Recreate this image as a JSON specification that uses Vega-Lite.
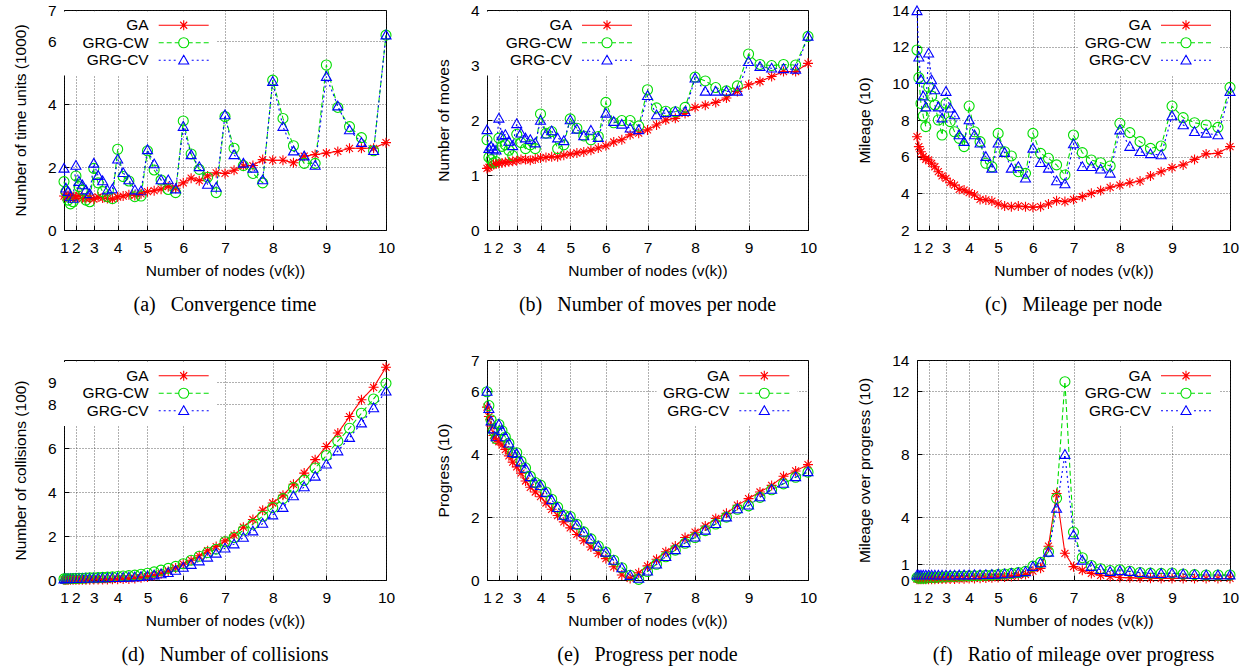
{
"$schema": "https://vega.github.io/schema/vega-lite/v6.json",
"background": "white",
"padding": {"left": 12, "top": 2, "right": 0, "bottom": 0},
"datasets": {
"a": [
{"n":1,"GA":1.08,"GRG-CW":1.54,"GRG-CV":1.96},
{"n":1.32,"GA":1.05,"GRG-CW":1.22,"GRG-CV":1.33},
{"n":1.68,"GA":1.1,"GRG-CW":0.95,"GRG-CV":1.22},
{"n":2.08,"GA":1.02,"GRG-CW":0.83,"GRG-CV":1.06},
{"n":2.52,"GA":1.06,"GRG-CW":0.9,"GRG-CV":1.0},
{"n":3,"GA":1.05,"GRG-CW":1.72,"GRG-CV":2.05},
{"n":3.52,"GA":1.1,"GRG-CW":1.38,"GRG-CV":1.54},
{"n":4.08,"GA":1.0,"GRG-CW":1.27,"GRG-CV":1.43},
{"n":4.68,"GA":1.0,"GRG-CW":0.95,"GRG-CV":1.27},
{"n":5.32,"GA":1.02,"GRG-CW":0.9,"GRG-CV":1.15},
{"n":6,"GA":0.98,"GRG-CW":1.96,"GRG-CV":2.12},
{"n":6.72,"GA":1.05,"GRG-CW":1.5,"GRG-CV":1.73},
{"n":7.48,"GA":1.02,"GRG-CW":1.22,"GRG-CV":1.56},
{"n":8.28,"GA":1.0,"GRG-CW":1.06,"GRG-CV":1.27},
{"n":9.12,"GA":0.98,"GRG-CW":1.0,"GRG-CV":1.3},
{"n":10,"GA":1.05,"GRG-CW":2.57,"GRG-CV":2.25},
{"n":10.92,"GA":1.08,"GRG-CW":1.7,"GRG-CV":1.82},
{"n":11.88,"GA":1.12,"GRG-CW":1.56,"GRG-CV":1.59},
{"n":12.88,"GA":1.1,"GRG-CW":1.06,"GRG-CV":1.27},
{"n":13.92,"GA":1.15,"GRG-CW":1.08,"GRG-CV":1.24},
{"n":15,"GA":1.22,"GRG-CW":2.52,"GRG-CV":2.55},
{"n":16.12,"GA":1.25,"GRG-CW":1.91,"GRG-CV":2.1},
{"n":17.28,"GA":1.3,"GRG-CW":1.59,"GRG-CV":1.59},
{"n":18.48,"GA":1.38,"GRG-CW":1.29,"GRG-CV":1.59},
{"n":19.72,"GA":1.33,"GRG-CW":1.19,"GRG-CV":1.3},
{"n":21,"GA":1.5,"GRG-CW":3.47,"GRG-CV":3.29},
{"n":22.32,"GA":1.65,"GRG-CW":2.42,"GRG-CV":2.39},
{"n":23.68,"GA":1.57,"GRG-CW":1.93,"GRG-CV":2.01},
{"n":25.08,"GA":1.72,"GRG-CW":1.68,"GRG-CV":1.45},
{"n":26.52,"GA":1.82,"GRG-CW":1.19,"GRG-CV":1.35},
{"n":28,"GA":1.8,"GRG-CW":3.61,"GRG-CV":3.66},
{"n":29.52,"GA":1.9,"GRG-CW":2.6,"GRG-CV":2.39},
{"n":31.08,"GA":2.03,"GRG-CW":2.05,"GRG-CV":2.12},
{"n":32.68,"GA":2.05,"GRG-CW":1.8,"GRG-CV":1.96},
{"n":34.32,"GA":2.24,"GRG-CW":1.5,"GRG-CV":1.59},
{"n":36,"GA":2.22,"GRG-CW":4.77,"GRG-CV":4.72},
{"n":37.72,"GA":2.22,"GRG-CW":3.55,"GRG-CV":3.29},
{"n":39.48,"GA":2.14,"GRG-CW":2.68,"GRG-CV":2.51},
{"n":41.28,"GA":2.35,"GRG-CW":2.12,"GRG-CV":2.35},
{"n":43.12,"GA":2.4,"GRG-CW":2.12,"GRG-CV":2.05},
{"n":45,"GA":2.45,"GRG-CW":5.25,"GRG-CV":4.88},
{"n":46.92,"GA":2.5,"GRG-CW":3.9,"GRG-CV":3.94},
{"n":48.88,"GA":2.6,"GRG-CW":3.29,"GRG-CV":3.18},
{"n":50.88,"GA":2.6,"GRG-CW":2.94,"GRG-CV":2.78},
{"n":52.92,"GA":2.6,"GRG-CW":2.52,"GRG-CV":2.52},
{"n":55,"GA":2.78,"GRG-CW":6.2,"GRG-CV":6.2}
],
"b": [
{"n":1,"GA":1.12,"GRG-CW":1.64,"GRG-CV":1.82},
{"n":1.32,"GA":1.14,"GRG-CW":1.32,"GRG-CV":1.48},
{"n":1.68,"GA":1.17,"GRG-CW":1.28,"GRG-CV":1.52},
{"n":2.08,"GA":1.19,"GRG-CW":1.22,"GRG-CV":1.47},
{"n":2.52,"GA":1.2,"GRG-CW":1.24,"GRG-CV":1.45},
{"n":3,"GA":1.21,"GRG-CW":1.67,"GRG-CV":2.03},
{"n":3.52,"GA":1.22,"GRG-CW":1.52,"GRG-CV":1.71},
{"n":4.08,"GA":1.23,"GRG-CW":1.55,"GRG-CV":1.73},
{"n":4.68,"GA":1.24,"GRG-CW":1.45,"GRG-CV":1.61},
{"n":5.32,"GA":1.25,"GRG-CW":1.35,"GRG-CV":1.53},
{"n":6,"GA":1.26,"GRG-CW":1.74,"GRG-CV":1.93},
{"n":6.72,"GA":1.28,"GRG-CW":1.59,"GRG-CV":1.76},
{"n":7.48,"GA":1.28,"GRG-CW":1.48,"GRG-CV":1.67},
{"n":8.28,"GA":1.27,"GRG-CW":1.55,"GRG-CV":1.64},
{"n":9.12,"GA":1.29,"GRG-CW":1.48,"GRG-CV":1.58},
{"n":10,"GA":1.31,"GRG-CW":2.11,"GRG-CV":1.99},
{"n":10.92,"GA":1.32,"GRG-CW":1.76,"GRG-CV":1.74},
{"n":11.88,"GA":1.33,"GRG-CW":1.79,"GRG-CV":1.8},
{"n":12.88,"GA":1.33,"GRG-CW":1.48,"GRG-CV":1.67},
{"n":13.92,"GA":1.36,"GRG-CW":1.55,"GRG-CV":1.62},
{"n":15,"GA":1.38,"GRG-CW":2.02,"GRG-CV":2.0},
{"n":16.12,"GA":1.4,"GRG-CW":1.85,"GRG-CV":1.83},
{"n":17.28,"GA":1.42,"GRG-CW":1.71,"GRG-CV":1.71},
{"n":18.48,"GA":1.45,"GRG-CW":1.64,"GRG-CV":1.81},
{"n":19.72,"GA":1.49,"GRG-CW":1.7,"GRG-CV":1.68},
{"n":21,"GA":1.53,"GRG-CW":2.32,"GRG-CV":2.12},
{"n":22.32,"GA":1.6,"GRG-CW":1.95,"GRG-CV":1.97},
{"n":23.68,"GA":1.64,"GRG-CW":1.99,"GRG-CV":1.92},
{"n":25.08,"GA":1.73,"GRG-CW":1.99,"GRG-CV":1.85},
{"n":26.52,"GA":1.76,"GRG-CW":1.89,"GRG-CV":1.82},
{"n":28,"GA":1.82,"GRG-CW":2.55,"GRG-CV":2.44},
{"n":29.52,"GA":1.91,"GRG-CW":2.22,"GRG-CV":2.09},
{"n":31.08,"GA":2.0,"GRG-CW":2.16,"GRG-CV":2.13},
{"n":32.68,"GA":2.03,"GRG-CW":2.15,"GRG-CV":2.15},
{"n":34.32,"GA":2.12,"GRG-CW":2.23,"GRG-CV":2.15},
{"n":36,"GA":2.23,"GRG-CW":2.78,"GRG-CV":2.76},
{"n":37.72,"GA":2.27,"GRG-CW":2.71,"GRG-CV":2.52},
{"n":39.48,"GA":2.32,"GRG-CW":2.59,"GRG-CV":2.52},
{"n":41.28,"GA":2.4,"GRG-CW":2.53,"GRG-CV":2.52},
{"n":43.12,"GA":2.52,"GRG-CW":2.62,"GRG-CV":2.52},
{"n":45,"GA":2.64,"GRG-CW":3.2,"GRG-CV":3.06},
{"n":46.92,"GA":2.7,"GRG-CW":3.01,"GRG-CV":2.97},
{"n":48.88,"GA":2.79,"GRG-CW":2.99,"GRG-CV":2.94},
{"n":50.88,"GA":2.88,"GRG-CW":3.01,"GRG-CV":2.93},
{"n":52.92,"GA":2.88,"GRG-CW":3.0,"GRG-CV":2.92},
{"n":55,"GA":3.03,"GRG-CW":3.52,"GRG-CV":3.52}
],
"c": [
{"n":1,"GA":7.09,"GRG-CW":11.82,"GRG-CV":13.95},
{"n":1.32,"GA":6.55,"GRG-CW":10.31,"GRG-CV":11.42},
{"n":1.68,"GA":6.27,"GRG-CW":8.9,"GRG-CV":10.2},
{"n":2.08,"GA":6.0,"GRG-CW":8.22,"GRG-CV":9.3},
{"n":2.52,"GA":5.85,"GRG-CW":7.64,"GRG-CV":8.7},
{"n":3,"GA":5.82,"GRG-CW":9.8,"GRG-CV":11.64},
{"n":3.52,"GA":5.64,"GRG-CW":9.3,"GRG-CV":10.18},
{"n":4.08,"GA":5.45,"GRG-CW":8.82,"GRG-CV":9.64},
{"n":4.68,"GA":5.18,"GRG-CW":8.0,"GRG-CV":8.7},
{"n":5.32,"GA":4.95,"GRG-CW":7.18,"GRG-CV":8.1},
{"n":6,"GA":4.82,"GRG-CW":8.91,"GRG-CV":9.55},
{"n":6.72,"GA":4.58,"GRG-CW":7.91,"GRG-CV":8.64},
{"n":7.48,"GA":4.45,"GRG-CW":7.36,"GRG-CV":8.27},
{"n":8.28,"GA":4.22,"GRG-CW":7.0,"GRG-CV":7.18},
{"n":9.12,"GA":4.18,"GRG-CW":6.55,"GRG-CV":6.82},
{"n":10,"GA":4.04,"GRG-CW":8.76,"GRG-CV":8.0},
{"n":10.92,"GA":3.91,"GRG-CW":7.36,"GRG-CV":7.18},
{"n":11.88,"GA":3.67,"GRG-CW":6.82,"GRG-CV":6.73},
{"n":12.88,"GA":3.64,"GRG-CW":5.64,"GRG-CV":6.0},
{"n":13.92,"GA":3.58,"GRG-CW":5.45,"GRG-CV":5.36},
{"n":15,"GA":3.42,"GRG-CW":7.27,"GRG-CV":6.73},
{"n":16.12,"GA":3.31,"GRG-CW":6.27,"GRG-CV":6.22},
{"n":17.28,"GA":3.27,"GRG-CW":6.04,"GRG-CV":5.36},
{"n":18.48,"GA":3.31,"GRG-CW":5.18,"GRG-CV":5.45},
{"n":19.72,"GA":3.27,"GRG-CW":5.09,"GRG-CV":4.82},
{"n":21,"GA":3.24,"GRG-CW":7.27,"GRG-CV":6.45},
{"n":22.32,"GA":3.27,"GRG-CW":6.18,"GRG-CV":5.67},
{"n":23.68,"GA":3.42,"GRG-CW":5.91,"GRG-CV":5.36},
{"n":25.08,"GA":3.6,"GRG-CW":5.55,"GRG-CV":4.67},
{"n":26.52,"GA":3.55,"GRG-CW":5.0,"GRG-CV":4.51},
{"n":28,"GA":3.67,"GRG-CW":7.18,"GRG-CV":6.69},
{"n":29.52,"GA":3.82,"GRG-CW":6.22,"GRG-CV":5.45},
{"n":31.08,"GA":4.0,"GRG-CW":5.82,"GRG-CV":5.45},
{"n":32.68,"GA":4.15,"GRG-CW":5.67,"GRG-CV":5.31},
{"n":34.32,"GA":4.33,"GRG-CW":5.49,"GRG-CV":5.09},
{"n":36,"GA":4.45,"GRG-CW":7.82,"GRG-CV":7.45},
{"n":37.72,"GA":4.58,"GRG-CW":7.31,"GRG-CV":6.55},
{"n":39.48,"GA":4.67,"GRG-CW":6.82,"GRG-CV":6.27},
{"n":41.28,"GA":4.95,"GRG-CW":6.45,"GRG-CV":6.15},
{"n":43.12,"GA":5.18,"GRG-CW":6.58,"GRG-CV":6.09},
{"n":45,"GA":5.4,"GRG-CW":8.76,"GRG-CV":8.22},
{"n":46.92,"GA":5.55,"GRG-CW":8.13,"GRG-CV":7.73},
{"n":48.88,"GA":5.85,"GRG-CW":7.85,"GRG-CV":7.36},
{"n":50.88,"GA":6.15,"GRG-CW":7.73,"GRG-CV":7.27},
{"n":52.92,"GA":6.18,"GRG-CW":7.6,"GRG-CV":7.18},
{"n":55,"GA":6.55,"GRG-CW":9.78,"GRG-CV":9.55}
],
"d": [
{"n":1,"GA":0.0,"GRG-CW":0.05,"GRG-CV":0.04},
{"n":1.32,"GA":0.0,"GRG-CW":0.05,"GRG-CV":0.04},
{"n":1.68,"GA":0.0,"GRG-CW":0.06,"GRG-CV":0.05},
{"n":2.08,"GA":0.01,"GRG-CW":0.06,"GRG-CV":0.05},
{"n":2.52,"GA":0.01,"GRG-CW":0.07,"GRG-CV":0.05},
{"n":3,"GA":0.01,"GRG-CW":0.07,"GRG-CV":0.06},
{"n":3.52,"GA":0.01,"GRG-CW":0.08,"GRG-CV":0.06},
{"n":4.08,"GA":0.01,"GRG-CW":0.08,"GRG-CV":0.06},
{"n":4.68,"GA":0.01,"GRG-CW":0.09,"GRG-CV":0.07},
{"n":5.32,"GA":0.01,"GRG-CW":0.1,"GRG-CV":0.07},
{"n":6,"GA":0.02,"GRG-CW":0.1,"GRG-CV":0.08},
{"n":6.72,"GA":0.02,"GRG-CW":0.11,"GRG-CV":0.08},
{"n":7.48,"GA":0.02,"GRG-CW":0.12,"GRG-CV":0.09},
{"n":8.28,"GA":0.02,"GRG-CW":0.13,"GRG-CV":0.09},
{"n":9.12,"GA":0.03,"GRG-CW":0.14,"GRG-CV":0.1},
{"n":10,"GA":0.03,"GRG-CW":0.16,"GRG-CV":0.1},
{"n":10.92,"GA":0.04,"GRG-CW":0.18,"GRG-CV":0.11},
{"n":11.88,"GA":0.05,"GRG-CW":0.2,"GRG-CV":0.12},
{"n":12.88,"GA":0.07,"GRG-CW":0.22,"GRG-CV":0.13},
{"n":13.92,"GA":0.1,"GRG-CW":0.26,"GRG-CV":0.15},
{"n":15,"GA":0.14,"GRG-CW":0.31,"GRG-CV":0.18},
{"n":16.12,"GA":0.2,"GRG-CW":0.37,"GRG-CV":0.22},
{"n":17.28,"GA":0.28,"GRG-CW":0.45,"GRG-CV":0.27},
{"n":18.48,"GA":0.4,"GRG-CW":0.53,"GRG-CV":0.33},
{"n":19.72,"GA":0.55,"GRG-CW":0.62,"GRG-CV":0.43},
{"n":21,"GA":0.72,"GRG-CW":0.74,"GRG-CV":0.57},
{"n":22.32,"GA":0.9,"GRG-CW":0.9,"GRG-CV":0.7},
{"n":23.68,"GA":1.1,"GRG-CW":1.08,"GRG-CV":0.86},
{"n":25.08,"GA":1.33,"GRG-CW":1.25,"GRG-CV":1.03},
{"n":26.52,"GA":1.52,"GRG-CW":1.4,"GRG-CV":1.21},
{"n":28,"GA":1.78,"GRG-CW":1.74,"GRG-CV":1.44},
{"n":29.52,"GA":2.04,"GRG-CW":1.93,"GRG-CV":1.63},
{"n":31.08,"GA":2.4,"GRG-CW":2.27,"GRG-CV":1.93},
{"n":32.68,"GA":2.75,"GRG-CW":2.54,"GRG-CV":2.22},
{"n":34.32,"GA":3.17,"GRG-CW":2.9,"GRG-CV":2.57},
{"n":36,"GA":3.5,"GRG-CW":3.29,"GRG-CV":2.95},
{"n":37.72,"GA":3.85,"GRG-CW":3.7,"GRG-CV":3.29},
{"n":39.48,"GA":4.35,"GRG-CW":4.2,"GRG-CV":3.82},
{"n":41.28,"GA":4.86,"GRG-CW":4.53,"GRG-CV":4.23},
{"n":43.12,"GA":5.47,"GRG-CW":5.09,"GRG-CV":4.71},
{"n":45,"GA":6.07,"GRG-CW":5.66,"GRG-CV":5.26},
{"n":46.92,"GA":6.68,"GRG-CW":6.31,"GRG-CV":5.86},
{"n":48.88,"GA":7.43,"GRG-CW":6.9,"GRG-CV":6.47},
{"n":50.88,"GA":8.19,"GRG-CW":7.58,"GRG-CV":7.13},
{"n":52.92,"GA":8.76,"GRG-CW":8.23,"GRG-CV":7.82},
{"n":55,"GA":9.67,"GRG-CW":8.94,"GRG-CV":8.58}
],
"e": [
{"n":1,"GA":5.5,"GRG-CW":5.99,"GRG-CV":6.0},
{"n":1.32,"GA":5.2,"GRG-CW":5.55,"GRG-CV":5.45},
{"n":1.68,"GA":4.9,"GRG-CW":5.1,"GRG-CV":5.05},
{"n":2.08,"GA":4.6,"GRG-CW":4.75,"GRG-CV":4.8},
{"n":2.52,"GA":4.45,"GRG-CW":4.5,"GRG-CV":4.55},
{"n":3,"GA":4.4,"GRG-CW":4.95,"GRG-CV":4.95},
{"n":3.52,"GA":4.3,"GRG-CW":4.75,"GRG-CV":4.75},
{"n":4.08,"GA":4.15,"GRG-CW":4.55,"GRG-CV":4.55},
{"n":4.68,"GA":3.95,"GRG-CW":4.35,"GRG-CV":4.35},
{"n":5.32,"GA":3.75,"GRG-CW":4.05,"GRG-CV":4.05},
{"n":6,"GA":3.6,"GRG-CW":4.05,"GRG-CV":4.02},
{"n":6.72,"GA":3.4,"GRG-CW":3.78,"GRG-CV":3.75},
{"n":7.48,"GA":3.15,"GRG-CW":3.57,"GRG-CV":3.55},
{"n":8.28,"GA":2.95,"GRG-CW":3.3,"GRG-CV":3.28},
{"n":9.12,"GA":2.8,"GRG-CW":3.1,"GRG-CV":3.08},
{"n":10,"GA":2.65,"GRG-CW":3.02,"GRG-CV":3.0},
{"n":10.92,"GA":2.45,"GRG-CW":2.8,"GRG-CV":2.78},
{"n":11.88,"GA":2.25,"GRG-CW":2.57,"GRG-CV":2.55},
{"n":12.88,"GA":2.05,"GRG-CW":2.32,"GRG-CV":2.3},
{"n":13.92,"GA":1.85,"GRG-CW":2.07,"GRG-CV":2.05},
{"n":15,"GA":1.66,"GRG-CW":2.02,"GRG-CV":2.0},
{"n":16.12,"GA":1.45,"GRG-CW":1.77,"GRG-CV":1.75},
{"n":17.28,"GA":1.25,"GRG-CW":1.53,"GRG-CV":1.52},
{"n":18.48,"GA":1.05,"GRG-CW":1.31,"GRG-CV":1.3},
{"n":19.72,"GA":0.85,"GRG-CW":1.08,"GRG-CV":1.07},
{"n":21,"GA":0.68,"GRG-CW":0.89,"GRG-CV":0.88},
{"n":22.32,"GA":0.42,"GRG-CW":0.63,"GRG-CV":0.62},
{"n":23.68,"GA":0.16,"GRG-CW":0.39,"GRG-CV":0.38},
{"n":25.08,"GA":0.05,"GRG-CW":0.15,"GRG-CV":0.14},
{"n":26.52,"GA":0.23,"GRG-CW":0.02,"GRG-CV":0.05},
{"n":28,"GA":0.45,"GRG-CW":0.27,"GRG-CV":0.28},
{"n":29.52,"GA":0.66,"GRG-CW":0.5,"GRG-CV":0.5},
{"n":31.08,"GA":0.9,"GRG-CW":0.74,"GRG-CV":0.74},
{"n":32.68,"GA":1.08,"GRG-CW":0.95,"GRG-CV":0.96},
{"n":34.32,"GA":1.35,"GRG-CW":1.17,"GRG-CV":1.18},
{"n":36,"GA":1.52,"GRG-CW":1.35,"GRG-CV":1.36},
{"n":37.72,"GA":1.72,"GRG-CW":1.57,"GRG-CV":1.58},
{"n":39.48,"GA":1.96,"GRG-CW":1.78,"GRG-CV":1.79},
{"n":41.28,"GA":2.12,"GRG-CW":2.0,"GRG-CV":2.0},
{"n":43.12,"GA":2.38,"GRG-CW":2.25,"GRG-CV":2.26},
{"n":45,"GA":2.59,"GRG-CW":2.36,"GRG-CV":2.38},
{"n":46.92,"GA":2.8,"GRG-CW":2.63,"GRG-CV":2.64},
{"n":48.88,"GA":3.01,"GRG-CW":2.87,"GRG-CV":2.88},
{"n":50.88,"GA":3.3,"GRG-CW":3.06,"GRG-CV":3.07},
{"n":52.92,"GA":3.47,"GRG-CW":3.27,"GRG-CV":3.28},
{"n":55,"GA":3.67,"GRG-CW":3.43,"GRG-CV":3.44}
],
"f": [
{"n":1,"GA":0.05,"GRG-CW":0.15,"GRG-CV":0.3},
{"n":1.32,"GA":0.05,"GRG-CW":0.12,"GRG-CV":0.3},
{"n":1.68,"GA":0.05,"GRG-CW":0.12,"GRG-CV":0.3},
{"n":2.08,"GA":0.05,"GRG-CW":0.12,"GRG-CV":0.3},
{"n":2.52,"GA":0.05,"GRG-CW":0.12,"GRG-CV":0.3},
{"n":3,"GA":0.05,"GRG-CW":0.15,"GRG-CV":0.3},
{"n":3.52,"GA":0.05,"GRG-CW":0.15,"GRG-CV":0.3},
{"n":4.08,"GA":0.05,"GRG-CW":0.15,"GRG-CV":0.3},
{"n":4.68,"GA":0.06,"GRG-CW":0.18,"GRG-CV":0.3},
{"n":5.32,"GA":0.06,"GRG-CW":0.18,"GRG-CV":0.3},
{"n":6,"GA":0.06,"GRG-CW":0.2,"GRG-CV":0.3},
{"n":6.72,"GA":0.07,"GRG-CW":0.22,"GRG-CV":0.3},
{"n":7.48,"GA":0.07,"GRG-CW":0.22,"GRG-CV":0.3},
{"n":8.28,"GA":0.08,"GRG-CW":0.24,"GRG-CV":0.31},
{"n":9.12,"GA":0.08,"GRG-CW":0.25,"GRG-CV":0.31},
{"n":10,"GA":0.09,"GRG-CW":0.26,"GRG-CV":0.31},
{"n":10.92,"GA":0.1,"GRG-CW":0.27,"GRG-CV":0.32},
{"n":11.88,"GA":0.11,"GRG-CW":0.28,"GRG-CV":0.32},
{"n":12.88,"GA":0.12,"GRG-CW":0.3,"GRG-CV":0.33},
{"n":13.92,"GA":0.14,"GRG-CW":0.32,"GRG-CV":0.34},
{"n":15,"GA":0.16,"GRG-CW":0.35,"GRG-CV":0.36},
{"n":16.12,"GA":0.19,"GRG-CW":0.38,"GRG-CV":0.38},
{"n":17.28,"GA":0.23,"GRG-CW":0.42,"GRG-CV":0.41},
{"n":18.48,"GA":0.28,"GRG-CW":0.47,"GRG-CV":0.45},
{"n":19.72,"GA":0.35,"GRG-CW":0.55,"GRG-CV":0.52},
{"n":21,"GA":0.57,"GRG-CW":0.88,"GRG-CV":0.85},
{"n":22.32,"GA":0.74,"GRG-CW":1.12,"GRG-CV":1.08},
{"n":23.68,"GA":2.15,"GRG-CW":1.8,"GRG-CV":1.76},
{"n":25.08,"GA":5.5,"GRG-CW":5.2,"GRG-CV":4.55},
{"n":26.52,"GA":1.7,"GRG-CW":12.62,"GRG-CV":7.98},
{"n":28,"GA":0.85,"GRG-CW":3.05,"GRG-CV":2.86},
{"n":29.52,"GA":0.62,"GRG-CW":1.42,"GRG-CV":1.25},
{"n":31.08,"GA":0.42,"GRG-CW":0.92,"GRG-CV":0.85},
{"n":32.68,"GA":0.3,"GRG-CW":0.72,"GRG-CV":0.65},
{"n":34.32,"GA":0.22,"GRG-CW":0.6,"GRG-CV":0.53},
{"n":36,"GA":0.16,"GRG-CW":0.65,"GRG-CV":0.58},
{"n":37.72,"GA":0.14,"GRG-CW":0.56,"GRG-CV":0.53},
{"n":39.48,"GA":0.12,"GRG-CW":0.48,"GRG-CV":0.46},
{"n":41.28,"GA":0.11,"GRG-CW":0.44,"GRG-CV":0.42},
{"n":43.12,"GA":0.1,"GRG-CW":0.42,"GRG-CV":0.4},
{"n":45,"GA":0.1,"GRG-CW":0.45,"GRG-CV":0.43},
{"n":46.92,"GA":0.1,"GRG-CW":0.38,"GRG-CV":0.37},
{"n":48.88,"GA":0.1,"GRG-CW":0.34,"GRG-CV":0.33},
{"n":50.88,"GA":0.1,"GRG-CW":0.32,"GRG-CV":0.31},
{"n":52.92,"GA":0.1,"GRG-CW":0.32,"GRG-CV":0.31},
{"n":55,"GA":0.1,"GRG-CW":0.32,"GRG-CV":0.31}
]
},
"vconcat": [
{"hconcat": [
{"width": 322, "height": 220, "data": {"name": "a"},
 "transform": [{"fold": ["GA","GRG-CW","GRG-CV"], "as": ["series","value"]}],
 "title": {"text": "(a)\u2002 Convergence time"},
 "encoding": {
  "x": {"field": "n", "type": "quantitative", "scale": {"domain": [1,55], "nice": false, "zero": false}, "axis": {"values": [1,3,6,10,15,21,28,36,45,55], "labelExpr": "'' + (indexof([1,3,6,10,15,21,28,36,45,55], datum.value) + 1)", "title": "Number of nodes (v(k))"}},
  "y": {"field": "value", "type": "quantitative", "scale": {"domain": [0,7], "nice": false, "zero": false}, "axis": {"values": [0,2,4,6,7], "title": "Number of time units (1000)"}}
 },
 "resolve": {"scale": {"shape": "independent", "color": "independent"}, "legend": {"shape": "independent", "color": "independent"}},
 "layer": [
  {"mark": {"type": "line", "strokeWidth": 1.1}, "encoding": {
    "stroke": {"field": "series", "type": "nominal", "scale": {"range": ["#ff0000","#0000ff","#00dd00"]}, "legend": null},
    "strokeDash": {"field": "series", "type": "nominal", "scale": {"range": [[1,0],[2,3],[5,3]]}, "legend": null}}},
  {"mark": {"type": "point", "filled": false, "size": 100, "strokeWidth": 1.1, "opacity": 1}, "encoding": {
    "stroke": {"field": "series", "type": "nominal", "scale": {"range": ["#ff0000","#0000ff","#00dd00"]}, "legend": null},
    "shape": {"field": "series", "type": "nominal", "scale": {"range": ["M-1,0H1M0,-1V1M-0.7,-0.7L0.7,0.7M-0.7,0.7L0.7,-0.7","M0,-1L1,0.75L-1,0.75Z","M1,0A1,1,0,1,1,-1,0A1,1,0,1,1,1,0"]}, "legend": null}}},
  {"transform": [{"filter": "false"}], "mark": {"type": "point", "filled": false, "size": 100, "strokeWidth": 1.1, "opacity": 1}, "encoding": {
    "shape": {"field": "series", "type": "nominal", "scale": {"domain": ["GA","GRG-CW","GRG-CV"], "range": ["M-5,0H5M0,-1V1M-0.7,-0.7L0.7,0.7M-0.7,0.7L0.7,-0.7","M-5,0H-4M-3.4,0H-2.4M-1.8,0H-1M1,0H1.8M2.4,0H3.4M4,0H5M1,0A1,1,0,1,1,-1,0A1,1,0,1,1,1,0","M-5,0H-4.6M-4,0H-3.6M-3,0H-2.6M-2,0H-1.6M1.6,0H2M2.6,0H3M3.6,0H4M4.6,0H5M0,-1L1,0.75L-1,0.75Z"]}},
    "color": {"field": "series", "type": "nominal", "scale": {"domain": ["GA","GRG-CW","GRG-CV"], "range": ["#ff0000","#00dd00","#0000ff"]},
      "legend": {"title": null, "orient": "none", "legendX": 0, "legendY": 1.5, "labelOffset": -42.75, "symbolOffset": 105.95}}}}
 ]},
{"width": 321, "height": 220, "data": {"name": "b"},
 "transform": [{"fold": ["GA","GRG-CW","GRG-CV"], "as": ["series","value"]}],
 "title": {"text": "(b)\u2002 Number of moves per node"},
 "encoding": {
  "x": {"field": "n", "type": "quantitative", "scale": {"domain": [1,55], "nice": false, "zero": false}, "axis": {"values": [1,3,6,10,15,21,28,36,45,55], "labelExpr": "'' + (indexof([1,3,6,10,15,21,28,36,45,55], datum.value) + 1)", "title": "Number of nodes (v(k))"}},
  "y": {"field": "value", "type": "quantitative", "scale": {"domain": [0,4], "nice": false, "zero": false}, "axis": {"values": [0,1,2,3,4], "title": "Number of moves"}}
 },
 "resolve": {"scale": {"shape": "independent", "color": "independent"}, "legend": {"shape": "independent", "color": "independent"}},
 "layer": [
  {"mark": {"type": "line", "strokeWidth": 1.1}, "encoding": {
    "stroke": {"field": "series", "type": "nominal", "scale": {"range": ["#ff0000","#0000ff","#00dd00"]}, "legend": null},
    "strokeDash": {"field": "series", "type": "nominal", "scale": {"range": [[1,0],[2,3],[5,3]]}, "legend": null}}},
  {"mark": {"type": "point", "filled": false, "size": 100, "strokeWidth": 1.1, "opacity": 1}, "encoding": {
    "stroke": {"field": "series", "type": "nominal", "scale": {"range": ["#ff0000","#0000ff","#00dd00"]}, "legend": null},
    "shape": {"field": "series", "type": "nominal", "scale": {"range": ["M-1,0H1M0,-1V1M-0.7,-0.7L0.7,0.7M-0.7,0.7L0.7,-0.7","M0,-1L1,0.75L-1,0.75Z","M1,0A1,1,0,1,1,-1,0A1,1,0,1,1,1,0"]}, "legend": null}}},
  {"transform": [{"filter": "false"}], "mark": {"type": "point", "filled": false, "size": 100, "strokeWidth": 1.1, "opacity": 1}, "encoding": {
    "shape": {"field": "series", "type": "nominal", "scale": {"domain": ["GA","GRG-CW","GRG-CV"], "range": ["M-5,0H5M0,-1V1M-0.7,-0.7L0.7,0.7M-0.7,0.7L0.7,-0.7","M-5,0H-4M-3.4,0H-2.4M-1.8,0H-1M1,0H1.8M2.4,0H3.4M4,0H5M1,0A1,1,0,1,1,-1,0A1,1,0,1,1,1,0","M-5,0H-4.6M-4,0H-3.6M-3,0H-2.6M-2,0H-1.6M1.6,0H2M2.6,0H3M3.6,0H4M4.6,0H5M0,-1L1,0.75L-1,0.75Z"]}},
    "color": {"field": "series", "type": "nominal", "scale": {"domain": ["GA","GRG-CW","GRG-CV"], "range": ["#ff0000","#00dd00","#0000ff"]},
      "legend": {"title": null, "orient": "none", "legendX": 0, "legendY": 1.5, "labelOffset": -42.75, "symbolOffset": 106.25}}}}
 ]},
{"width": 313, "height": 220, "data": {"name": "c"},
 "transform": [{"fold": ["GA","GRG-CW","GRG-CV"], "as": ["series","value"]}],
 "title": {"text": "(c)\u2002 Mileage per node"},
 "encoding": {
  "x": {"field": "n", "type": "quantitative", "scale": {"domain": [1,55], "nice": false, "zero": false}, "axis": {"values": [1,3,6,10,15,21,28,36,45,55], "labelExpr": "'' + (indexof([1,3,6,10,15,21,28,36,45,55], datum.value) + 1)", "title": "Number of nodes (v(k))"}},
  "y": {"field": "value", "type": "quantitative", "scale": {"domain": [2,14], "nice": false, "zero": false}, "axis": {"values": [2,4,6,8,10,12,14], "title": "Mileage (10)"}}
 },
 "resolve": {"scale": {"shape": "independent", "color": "independent"}, "legend": {"shape": "independent", "color": "independent"}},
 "layer": [
  {"mark": {"type": "line", "strokeWidth": 1.1}, "encoding": {
    "stroke": {"field": "series", "type": "nominal", "scale": {"range": ["#ff0000","#0000ff","#00dd00"]}, "legend": null},
    "strokeDash": {"field": "series", "type": "nominal", "scale": {"range": [[1,0],[2,3],[5,3]]}, "legend": null}}},
  {"mark": {"type": "point", "filled": false, "size": 100, "strokeWidth": 1.1, "opacity": 1}, "encoding": {
    "stroke": {"field": "series", "type": "nominal", "scale": {"range": ["#ff0000","#0000ff","#00dd00"]}, "legend": null},
    "shape": {"field": "series", "type": "nominal", "scale": {"range": ["M-1,0H1M0,-1V1M-0.7,-0.7L0.7,0.7M-0.7,0.7L0.7,-0.7","M0,-1L1,0.75L-1,0.75Z","M1,0A1,1,0,1,1,-1,0A1,1,0,1,1,1,0"]}, "legend": null}}},
  {"transform": [{"filter": "false"}], "mark": {"type": "point", "filled": false, "size": 100, "strokeWidth": 1.1, "opacity": 1}, "encoding": {
    "shape": {"field": "series", "type": "nominal", "scale": {"domain": ["GA","GRG-CW","GRG-CV"], "range": ["M-5,0H5M0,-1V1M-0.7,-0.7L0.7,0.7M-0.7,0.7L0.7,-0.7","M-5,0H-4M-3.4,0H-2.4M-1.8,0H-1M1,0H1.8M2.4,0H3.4M4,0H5M1,0A1,1,0,1,1,-1,0A1,1,0,1,1,1,0","M-5,0H-4.6M-4,0H-3.6M-3,0H-2.6M-2,0H-1.6M1.6,0H2M2.6,0H3M3.6,0H4M4.6,0H5M0,-1L1,0.75L-1,0.75Z"]}},
    "color": {"field": "series", "type": "nominal", "scale": {"domain": ["GA","GRG-CW","GRG-CV"], "range": ["#ff0000","#00dd00","#0000ff"]},
      "legend": {"title": null, "orient": "none", "legendX": 161.3, "legendY": 1.5, "labelOffset": -42.75, "symbolOffset": 93.95}}}}
 ]}
], "spacing": 39, "resolve": {"scale": {"color": "independent", "stroke": "independent", "shape": "independent", "strokeDash": "independent"}, "legend": {"color": "independent", "stroke": "independent", "shape": "independent", "strokeDash": "independent"}}},
{"hconcat": [
{"width": 322, "height": 220, "data": {"name": "d"},
 "transform": [{"fold": ["GA","GRG-CW","GRG-CV"], "as": ["series","value"]}],
 "title": {"text": "(d)\u2002 Number of collisions"},
 "encoding": {
  "x": {"field": "n", "type": "quantitative", "scale": {"domain": [1,55], "nice": false, "zero": false}, "axis": {"values": [1,3,6,10,15,21,28,36,45,55], "labelExpr": "'' + (indexof([1,3,6,10,15,21,28,36,45,55], datum.value) + 1)", "title": "Number of nodes (v(k))"}},
  "y": {"field": "value", "type": "quantitative", "scale": {"domain": [0,10], "nice": false, "zero": false}, "axis": {"values": [0,2,4,6,8,9], "title": "Number of collisions (100)"}}
 },
 "resolve": {"scale": {"shape": "independent", "color": "independent"}, "legend": {"shape": "independent", "color": "independent"}},
 "layer": [
  {"mark": {"type": "line", "strokeWidth": 1.1}, "encoding": {
    "stroke": {"field": "series", "type": "nominal", "scale": {"range": ["#ff0000","#0000ff","#00dd00"]}, "legend": null},
    "strokeDash": {"field": "series", "type": "nominal", "scale": {"range": [[1,0],[2,3],[5,3]]}, "legend": null}}},
  {"mark": {"type": "point", "filled": false, "size": 100, "strokeWidth": 1.1, "opacity": 1}, "encoding": {
    "stroke": {"field": "series", "type": "nominal", "scale": {"range": ["#ff0000","#0000ff","#00dd00"]}, "legend": null},
    "shape": {"field": "series", "type": "nominal", "scale": {"range": ["M-1,0H1M0,-1V1M-0.7,-0.7L0.7,0.7M-0.7,0.7L0.7,-0.7","M0,-1L1,0.75L-1,0.75Z","M1,0A1,1,0,1,1,-1,0A1,1,0,1,1,1,0"]}, "legend": null}}},
  {"transform": [{"filter": "false"}], "mark": {"type": "point", "filled": false, "size": 100, "strokeWidth": 1.1, "opacity": 1}, "encoding": {
    "shape": {"field": "series", "type": "nominal", "scale": {"domain": ["GA","GRG-CW","GRG-CV"], "range": ["M-5,0H5M0,-1V1M-0.7,-0.7L0.7,0.7M-0.7,0.7L0.7,-0.7","M-5,0H-4M-3.4,0H-2.4M-1.8,0H-1M1,0H1.8M2.4,0H3.4M4,0H5M1,0A1,1,0,1,1,-1,0A1,1,0,1,1,1,0","M-5,0H-4.6M-4,0H-3.6M-3,0H-2.6M-2,0H-1.6M1.6,0H2M2.6,0H3M3.6,0H4M4.6,0H5M0,-1L1,0.75L-1,0.75Z"]}},
    "color": {"field": "series", "type": "nominal", "scale": {"domain": ["GA","GRG-CW","GRG-CV"], "range": ["#ff0000","#00dd00","#0000ff"]},
      "legend": {"title": null, "orient": "none", "legendX": 0, "legendY": 2, "labelOffset": -42.75, "symbolOffset": 105.95}}}}
 ]},
{"width": 321, "height": 220, "data": {"name": "e"},
 "transform": [{"fold": ["GA","GRG-CW","GRG-CV"], "as": ["series","value"]}],
 "title": {"text": "(e)\u2002 Progress per node"},
 "encoding": {
  "x": {"field": "n", "type": "quantitative", "scale": {"domain": [1,55], "nice": false, "zero": false}, "axis": {"values": [1,3,6,10,15,21,28,36,45,55], "labelExpr": "'' + (indexof([1,3,6,10,15,21,28,36,45,55], datum.value) + 1)", "title": "Number of nodes (v(k))"}},
  "y": {"field": "value", "type": "quantitative", "scale": {"domain": [0,7], "nice": false, "zero": false}, "axis": {"values": [0,2,4,6,7], "title": "Progress (10)"}}
 },
 "resolve": {"scale": {"shape": "independent", "color": "independent"}, "legend": {"shape": "independent", "color": "independent"}},
 "layer": [
  {"mark": {"type": "line", "strokeWidth": 1.1}, "encoding": {
    "stroke": {"field": "series", "type": "nominal", "scale": {"range": ["#ff0000","#0000ff","#00dd00"]}, "legend": null},
    "strokeDash": {"field": "series", "type": "nominal", "scale": {"range": [[1,0],[2,3],[5,3]]}, "legend": null}}},
  {"mark": {"type": "point", "filled": false, "size": 100, "strokeWidth": 1.1, "opacity": 1}, "encoding": {
    "stroke": {"field": "series", "type": "nominal", "scale": {"range": ["#ff0000","#0000ff","#00dd00"]}, "legend": null},
    "shape": {"field": "series", "type": "nominal", "scale": {"range": ["M-1,0H1M0,-1V1M-0.7,-0.7L0.7,0.7M-0.7,0.7L0.7,-0.7","M0,-1L1,0.75L-1,0.75Z","M1,0A1,1,0,1,1,-1,0A1,1,0,1,1,1,0"]}, "legend": null}}},
  {"transform": [{"filter": "false"}], "mark": {"type": "point", "filled": false, "size": 100, "strokeWidth": 1.1, "opacity": 1}, "encoding": {
    "shape": {"field": "series", "type": "nominal", "scale": {"domain": ["GA","GRG-CW","GRG-CV"], "range": ["M-5,0H5M0,-1V1M-0.7,-0.7L0.7,0.7M-0.7,0.7L0.7,-0.7","M-5,0H-4M-3.4,0H-2.4M-1.8,0H-1M1,0H1.8M2.4,0H3.4M4,0H5M1,0A1,1,0,1,1,-1,0A1,1,0,1,1,1,0","M-5,0H-4.6M-4,0H-3.6M-3,0H-2.6M-2,0H-1.6M1.6,0H2M2.6,0H3M3.6,0H4M4.6,0H5M0,-1L1,0.75L-1,0.75Z"]}},
    "color": {"field": "series", "type": "nominal", "scale": {"domain": ["GA","GRG-CW","GRG-CV"], "range": ["#ff0000","#00dd00","#0000ff"]},
      "legend": {"title": null, "orient": "none", "legendX": 169.6, "legendY": 2, "labelOffset": -42.75, "symbolOffset": 93.95}}}}
 ]},
{"width": 313, "height": 220, "data": {"name": "f"},
 "transform": [{"fold": ["GA","GRG-CW","GRG-CV"], "as": ["series","value"]}],
 "title": {"text": "(f)\u2002 Ratio of mileage over progress"},
 "encoding": {
  "x": {"field": "n", "type": "quantitative", "scale": {"domain": [1,55], "nice": false, "zero": false}, "axis": {"values": [1,3,6,10,15,21,28,36,45,55], "labelExpr": "'' + (indexof([1,3,6,10,15,21,28,36,45,55], datum.value) + 1)", "title": "Number of nodes (v(k))"}},
  "y": {"field": "value", "type": "quantitative", "scale": {"domain": [0,14], "nice": false, "zero": false}, "axis": {"values": [0,1,4,8,12,14], "title": "Mileage over progress (10)"}}
 },
 "resolve": {"scale": {"shape": "independent", "color": "independent"}, "legend": {"shape": "independent", "color": "independent"}},
 "layer": [
  {"mark": {"type": "line", "strokeWidth": 1.1}, "encoding": {
    "stroke": {"field": "series", "type": "nominal", "scale": {"range": ["#ff0000","#0000ff","#00dd00"]}, "legend": null},
    "strokeDash": {"field": "series", "type": "nominal", "scale": {"range": [[1,0],[2,3],[5,3]]}, "legend": null}}},
  {"mark": {"type": "point", "filled": false, "size": 100, "strokeWidth": 1.1, "opacity": 1}, "encoding": {
    "stroke": {"field": "series", "type": "nominal", "scale": {"range": ["#ff0000","#0000ff","#00dd00"]}, "legend": null},
    "shape": {"field": "series", "type": "nominal", "scale": {"range": ["M-1,0H1M0,-1V1M-0.7,-0.7L0.7,0.7M-0.7,0.7L0.7,-0.7","M0,-1L1,0.75L-1,0.75Z","M1,0A1,1,0,1,1,-1,0A1,1,0,1,1,1,0"]}, "legend": null}}},
  {"transform": [{"filter": "false"}], "mark": {"type": "point", "filled": false, "size": 100, "strokeWidth": 1.1, "opacity": 1}, "encoding": {
    "shape": {"field": "series", "type": "nominal", "scale": {"domain": ["GA","GRG-CW","GRG-CV"], "range": ["M-5,0H5M0,-1V1M-0.7,-0.7L0.7,0.7M-0.7,0.7L0.7,-0.7","M-5,0H-4M-3.4,0H-2.4M-1.8,0H-1M1,0H1.8M2.4,0H3.4M4,0H5M1,0A1,1,0,1,1,-1,0A1,1,0,1,1,1,0","M-5,0H-4.6M-4,0H-3.6M-3,0H-2.6M-2,0H-1.6M1.6,0H2M2.6,0H3M3.6,0H4M4.6,0H5M0,-1L1,0.75L-1,0.75Z"]}},
    "color": {"field": "series", "type": "nominal", "scale": {"domain": ["GA","GRG-CW","GRG-CV"], "range": ["#ff0000","#00dd00","#0000ff"]},
      "legend": {"title": null, "orient": "none", "legendX": 161.3, "legendY": 2, "labelOffset": -42.75, "symbolOffset": 93.95}}}}
 ]}
], "spacing": 39, "resolve": {"scale": {"color": "independent", "stroke": "independent", "shape": "independent", "strokeDash": "independent"}, "legend": {"color": "independent", "stroke": "independent", "shape": "independent", "strokeDash": "independent"}}}
],
"spacing": 36,
"resolve": {"scale": {"color": "independent", "stroke": "independent", "shape": "independent", "strokeDash": "independent"}, "legend": {"color": "independent", "stroke": "independent", "shape": "independent", "strokeDash": "independent"}},
"config": {
 "view": {"stroke": "#000", "strokeWidth": 1},
 "axis": {"domain": false, "grid": true, "gridColor": "#222", "gridDash": [1,2], "gridWidth": 0.8, "gridOpacity": 0.9,
   "ticks": true, "tickColor": "#000", "tickSize": -5, "tickWidth": 1,
   "labelFont": "Liberation Sans", "labelFontSize": 15.5, "labelColor": "#000",
   "titleFont": "Liberation Sans", "titleFontSize": 15.5, "titleFontWeight": "normal", "titleColor": "#000",
   "labelFlush": false, "labelOverlap": false, "labelBound": false},
 "axisX": {"labelPadding": 15.5, "titlePadding": 7.5},
 "axisY": {"labelPadding": 13, "titlePadding": 19},
 "legend": {"labelAlign": "right", "labelFont": "Liberation Sans", "labelFontSize": 15.5, "labelColor": "#000",
   "padding": 6, "fillColor": "white", "symbolSize": 100, "symbolStrokeWidth": 1.1, "rowPadding": 0.5},
 "title": {"font": "Liberation Serif", "fontSize": 20, "fontWeight": "normal", "orient": "bottom", "offset": 16, "color": "#000"}
}
}
